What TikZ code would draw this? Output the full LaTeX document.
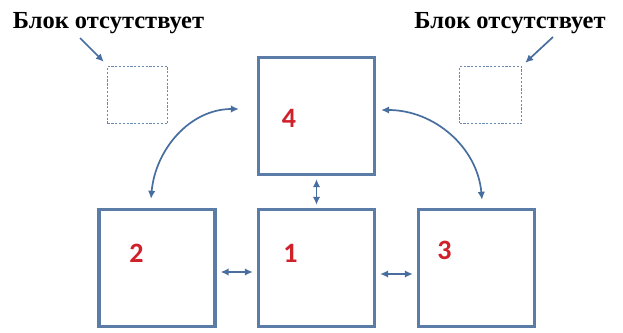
\documentclass[tikz,border=0pt]{standalone}
\usepackage{fontspec}
\newfontfamily\lblfont{Liberation Serif}
\newfontfamily\numfont{Carlito}
\usetikzlibrary{arrows.meta,calc}
\definecolor{boxblue}{RGB}{92,124,168}
\definecolor{arrblue}{RGB}{72,110,160}
\definecolor{numred}{RGB}{208,32,42}
\tikzset{
  bigbox/.style={draw=boxblue, line width=3.4bp, minimum width=116bp, minimum height=117bp, inner sep=0pt},
  ghostbox/.style={draw=boxblue!90, line width=1.4bp, dash pattern=on 2.2bp off 1.6bp, inner sep=0pt, minimum height=57bp},
  conn/.style={draw=arrblue, line width=1.7bp, {Latex[length=8bp,width=7.5bp]}-{Latex[length=8bp,width=7.5bp]}},
  pointer/.style={draw=arrblue, line width=1.7bp, -{Latex[length=8bp,width=7.5bp]}},
  numlbl/.style={text=numred, draw=none, font=\numfont\bfseries\fontsize{28bp}{28bp}\selectfont, inner sep=0pt},
  toplbl/.style={font=\lblfont\bfseries\fontsize{24.5bp}{24.5bp}\selectfont, inner sep=0pt, anchor=base}
}
\begin{document}
\begin{tikzpicture}[x=1bp,y=1bp]
\useasboundingbox[fill=white] (0,0) rectangle (623,332);
% main blocks
\node[bigbox] (b4) at (316.5,216) {};
\node[bigbox] (b2) at (157,64) {};
\node[bigbox] (b1) at (316.5,64) {};
\node[bigbox] (b3) at (476.5,64) {};
% absent blocks
\node[ghostbox, minimum width=60bp] (dl) at (137.5,237) {};
\node[ghostbox, minimum width=62bp] (dr) at (490.5,237) {};
% numbers
\node[numlbl] (n4) at (289,214) {4};
\node[numlbl] (n2) at (136.5,78.5) {2};
\node[numlbl] (n1) at (290.5,78.5) {1};
\node[numlbl] (n3) at (444.5,82) {3};
% labels
\node[toplbl] (tl) at (108.5,304) {Блок отсутствует};
\node[toplbl] (tr) at (510,304) {Блок отсутствует};
\coordinate (pl) at (80,294);
\coordinate (pr) at (553,295);
\draw[pointer] (pl) -- ([xshift=-3bp,yshift=4bp]dl.north west);
\draw[pointer] (pr) -- ([xshift=3bp,yshift=3bp]dr.north east);
% connectors
\draw[conn] ([xshift=-6bp,yshift=9bp]b2.north) to[out=85,in=180] ([xshift=-18bp,yshift=7bp]b4.west);
\draw[conn] ([xshift=5bp,yshift=6bp]b4.east) to[out=0,in=95] ([xshift=5.5bp,yshift=8bp]b3.north);
\draw[conn, shorten <=3bp, shorten >=3bp] (b4.south) -- (b1.north);
\draw[conn, shorten <=4bp, shorten >=4bp] ([yshift=-4bp]b2.east) -- ([yshift=-4bp]b1.west);
\draw[conn, shorten <=4bp, shorten >=4bp] ([yshift=-6bp]b1.east) -- ([yshift=-6bp]b3.west);
\end{tikzpicture}
\end{document}
